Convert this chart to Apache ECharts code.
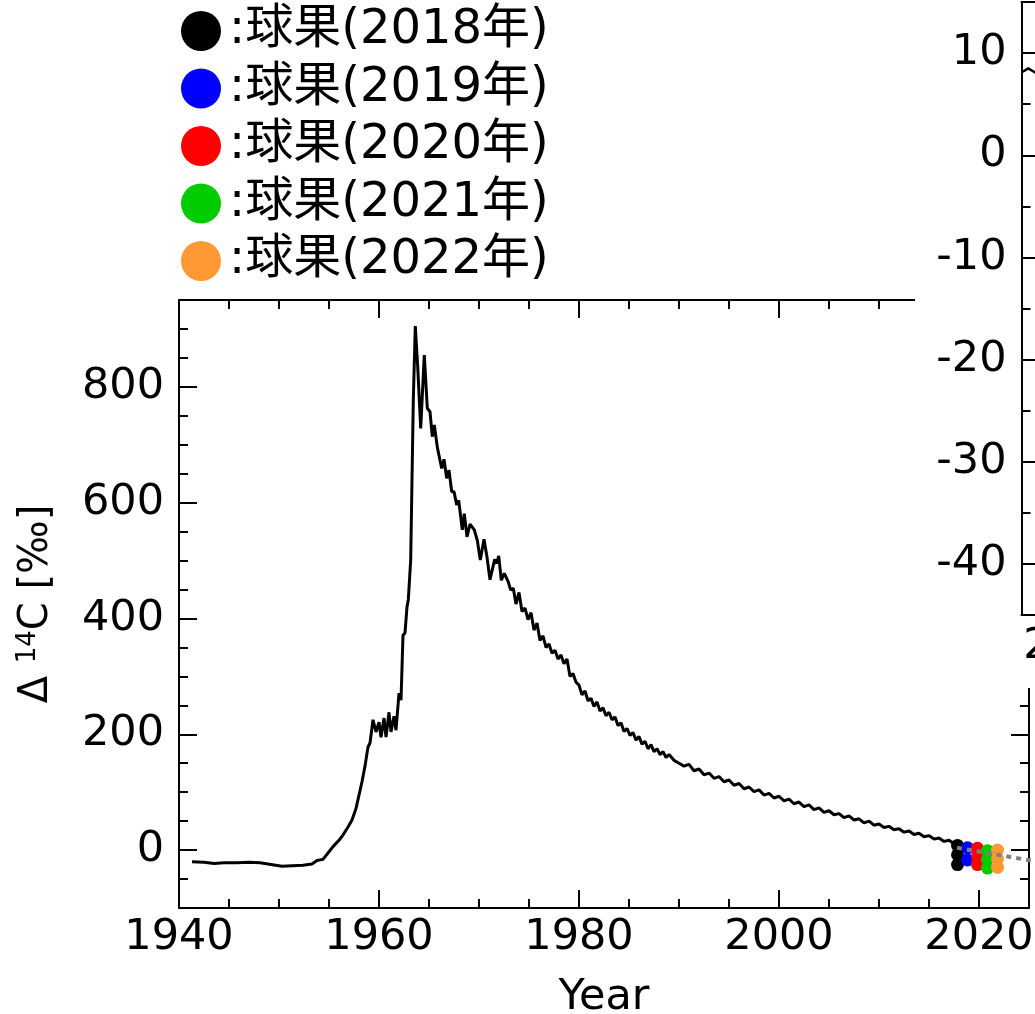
<!DOCTYPE html>
<html>
<head>
<meta charset="utf-8">
<script src="https://cdn.jsdelivr.net/npm/echarts@6/dist/echarts.min.js"></script>
<style>
html,body{margin:0;padding:0;background:#fff;}
#chart{width:1035px;height:1014px;}
</style>
</head>
<body>
<div id="chart"></div>
<script>
// 大気中のΔ14C（読み取り値）
var curveYears = [1941.3,1942.5,1943.5,1944.5,1945.8,1947.0,1948.1,1949.2,1950.3,1951.3,1952.4,1953.3,1953.8,1954.4,1954.9,1955.4,1956.0,1956.4,1956.9,1957.3,1957.7,1958.0,1958.3,1958.6,1958.9,1959.1,1959.4,1959.7,1960.0,1960.2,1960.5,1960.7,1961.0,1961.2,1961.5,1961.7,1962.0,1962.2,1962.4,1962.6,1962.8,1962.93,1963.17,1963.43,1963.63,1963.87,1964.17,1964.53,1964.83,1965.1,1965.33,1965.53,1965.83,1966.27,1966.5,1966.77,1967.0,1967.27,1967.5,1967.77,1967.97,1968.33,1968.53,1968.8,1969.1,1969.53,1969.83,1970.13,1970.5,1970.8,1971.1,1971.57,1971.77,1971.97,1972.23,1972.53,1972.93,1973.17,1973.43,1973.7,1974.0,1974.3,1974.6,1974.9,1975.2,1975.5,1975.8,1976.1,1976.4,1976.7,1977.0,1977.3,1977.6,1977.9,1978.2,1978.5,1978.8,1979.1,1979.4,1979.7,1980.0,1980.3,1980.6,1980.9,1981.2,1981.5,1981.8,1982.1,1982.4,1982.7,1983.0,1983.3,1983.6,1983.9,1984.2,1984.5,1984.8,1985.1,1985.4,1985.7,1986.0,1986.3,1986.6,1986.9,1987.2,1987.5,1987.8,1988.1,1988.4,1988.7,1989.0,1989.5,1990.0,1990.5,1991.0,1991.5,1992.0,1992.5,1993.0,1993.5,1994.0,1994.5,1995.0,1995.5,1996.0,1996.5,1997.0,1997.5,1998.0,1998.5,1999.0,1999.5,2000.0,2000.5,2001.0,2001.5,2002.0,2002.5,2003.0,2003.5,2004.0,2004.5,2005.0,2005.5,2006.0,2006.5,2007.0,2007.5,2008.0,2008.5,2009.0,2009.5,2010.0,2010.5,2011.0,2011.5,2012.0,2012.5,2013.0,2013.5,2014.0,2014.5,2015.0,2015.5,2016.0,2016.5,2017.0,2017.5,2017.8];
var curveD14C = [-20,-21,-23,-22,-22,-21,-22,-25,-28,-27,-26,-24,-18,-16,-5,6,17,26,40,52,72,95,118,145,178,185,225,204,221,195,228,195,238,204,231,207,271,259,371,375,420,432,501,777,905,835,728,855,763,757,714,734,696,659,675,642,656,619,619,596,604,553,581,541,563,553,535,501,537,506,467,502,495,508,466,478,463,449,452,425,445,412,418,398,410,380,392,362,370,350,356,340,345,330,337,322,330,300,305,290,285,268,275,258,262,248,256,240,246,232,238,225,230,215,220,205,210,198,203,190,196,183,188,175,182,170,175,165,170,160,165,155,150,145,148,137,140,130,133,124,127,118,121,112,115,106,109,101,104,95,98,90,93,85,88,80,83,75,78,70,73,65,68,61,63,56,59,52,54,47,50,43,45,39,41,35,37,31,33,27,29,23,25,19,21,15,17,11,9];

// 球果の測定値
var fruitNames = ['球果(2018年)','球果(2019年)','球果(2020年)','球果(2021年)','球果(2022年)'];
var fruitYears = [2017.85, 2018.85, 2019.85, 2020.85, 2021.85];
var fruit2018 = [8, -8, -25];
var fruit2019 = [4, -17];
var fruit2020 = [3, -11, -25];
var fruit2021 = [-1, -16, -31];
var fruit2022 = [0, -15, -30];
var fruitColors = ['#000000', '#0000ff', '#ff0000', '#00cc00', '#ff9933'];

// 点線（傾向）
var trendYears = [2017.8, 2025.5];
var trendD14C = [4, -19];

// 挿入図の曲線
var insetYears = [2017.0, 2017.12, 2017.24, 2017.4];
var insetD14C = [8.1, 8.5, 8.1, 7.4];

// 目盛
var xTicks = [1940, 1960, 1980, 2000, 2020];
var yTicks = [0, 200, 400, 600, 800];
var insetYTicks = [10, 0, -10, -20, -30, -40];

var FONT = "'DejaVu Sans', 'Noto Sans CJK JP', sans-serif";

function zip(xs, ys) {
    return xs.map(function (x, i) { return [x, ys[i]]; });
}
function plain(v) { return String(v); }

var fruitValues = [fruit2018, fruit2019, fruit2020, fruit2021, fruit2022];

var chart = echarts.init(document.getElementById('chart'));

// 軸の共通設定
function axisBase(extra) {
    var o = {
        type: 'value',
        axisLine: { show: true, onZero: false, lineStyle: { color: '#000', width: 2 } },
        axisTick: { show: true, inside: true, length: 18, lineStyle: { color: '#000', width: 2 } },
        axisLabel: { show: false },
        splitLine: { show: false }
    };
    for (var k in extra) o[k] = extra[k];
    return o;
}
var noLine = { show: false, onZero: false };
var mainLine = { show: true, onZero: false, lineStyle: { color: '#000', width: 2 } };
function majorTick(vals) {
    return { show: true, inside: true, length: 18, customValues: vals, lineStyle: { color: '#000', width: 2 } };
}
var minorTick = { show: true, inside: true, length: 9, lineStyle: { color: '#000', width: 2 } };
function labels(vals, margin) {
    return { show: true, customValues: vals, margin: margin, color: '#000', fontSize: 43, fontFamily: FONT, formatter: plain };
}

var series = [];
series.push({
    type: 'line',
    xAxisIndex: 0, yAxisIndex: 0,
    data: zip(curveYears, curveD14C),
    showSymbol: false,
    lineStyle: { color: '#000', width: 3 },
    z: 3
});
fruitNames.forEach(function (name, i) {
    series.push({
        name: name,
        type: 'scatter',
        xAxisIndex: 0, yAxisIndex: 0,
        data: fruitValues[i].map(function (v) { return [fruitYears[i], v]; }),
        symbolSize: 13,
        itemStyle: { color: fruitColors[i], opacity: 1 },
        z: 4 + i
    });
});
series.push({
    type: 'line',
    xAxisIndex: 0, yAxisIndex: 0,
    data: zip(trendYears, trendD14C),
    showSymbol: false,
    lineStyle: { color: '#808080', width: 4, type: [5, 5], cap: 'butt' },
    z: 12
});
// 挿入図
series.push({
    type: 'line',
    xAxisIndex: 4, yAxisIndex: 4,
    data: zip(insetYears, insetD14C),
    showSymbol: false,
    lineStyle: { color: '#000', width: 2.5 },
    z: 30
});

var option = {
    animation: false,
    backgroundColor: '#fff',
    textStyle: { fontFamily: FONT },
    grid: [
        { left: 179, top: 300, width: 850, height: 608, outerBoundsMode: 'none', containLabel: false },
        { left: 1021.5, top: 2, width: 339, height: 613, outerBoundsMode: 'none', containLabel: false }
    ],
    graphic: [{
        type: 'rect',
        z: 10,
        shape: { x: 915, y: 0, width: 120, height: 688 },
        style: { fill: '#fff' }
    }],
    legend: {
        data: fruitNames,
        orient: 'vertical',
        left: 176,
        top: 2,
        icon: 'circle',
        itemWidth: 40,
        itemHeight: 40,
        itemGap: 9.5,
        formatter: ':{name}',
        textStyle: { color: '#000', fontSize: 48, fontFamily: FONT, padding: [0, 0, 0, 3] }
    },
    xAxis: [
        axisBase({
            gridIndex: 0, min: 1940, max: 2025, position: 'bottom',
            axisLine: mainLine, axisTick: majorTick(xTicks), axisLabel: labels(xTicks, 8),
            name: 'Year', nameLocation: 'middle', nameGap: 68,
            nameTextStyle: { color: '#000', fontSize: 43, fontFamily: FONT }
        }),
        axisBase({ gridIndex: 0, min: 1940, max: 2025, interval: 5, position: 'bottom', axisLine: noLine, axisTick: minorTick }),
        axisBase({ gridIndex: 0, min: 1940, max: 2025, position: 'top', axisLine: mainLine, axisTick: majorTick(xTicks) }),
        axisBase({ gridIndex: 0, min: 1940, max: 2025, interval: 5, position: 'top', axisLine: noLine, axisTick: minorTick }),
        axisBase({
            gridIndex: 1, min: 2017, max: 2023, interval: 1, position: 'bottom', z: 20,
            axisLine: mainLine,
            axisLabel: { show: true, showMinLabel: false, margin: 10, color: '#000', fontSize: 43, fontFamily: FONT, formatter: plain }
        }),
        axisBase({ gridIndex: 1, min: 2017, max: 2023, interval: 1, position: 'top', z: 20, axisLine: mainLine, axisTick: { show: false } })
    ],
    yAxis: [
        axisBase({
            gridIndex: 0, min: -100, max: 950, position: 'left',
            axisLine: mainLine, axisTick: majorTick(yTicks), axisLabel: labels(yTicks, 15),
            name: '{d|Δ }{s|14}{d|C [‰]}', nameLocation: 'middle', nameGap: 120,
            nameTextStyle: {
                color: '#000', fontSize: 40, fontFamily: FONT,
                rich: {
                    d: { fontSize: 40, fontFamily: FONT, color: '#000' },
                    s: { fontSize: 26, fontFamily: FONT, color: '#000', padding: [0, 0, 18, 0] }
                }
            }
        }),
        axisBase({ gridIndex: 0, min: -100, max: 950, interval: 50, position: 'left', axisLine: noLine, axisTick: minorTick }),
        axisBase({ gridIndex: 0, min: -100, max: 950, position: 'right', axisLine: mainLine, axisTick: majorTick(yTicks) }),
        axisBase({ gridIndex: 0, min: -100, max: 950, interval: 50, position: 'right', axisLine: noLine, axisTick: minorTick }),
        axisBase({
            gridIndex: 1, min: -45, max: 15, position: 'left', z: 20,
            axisLine: mainLine, axisTick: majorTick(insetYTicks), axisLabel: labels(insetYTicks, 15)
        }),
        axisBase({ gridIndex: 1, min: -45, max: 15, interval: 5, position: 'left', z: 20, axisLine: noLine, axisTick: minorTick })
    ],
    series: series
};

chart.setOption(option);
</script>
</body>
</html>
